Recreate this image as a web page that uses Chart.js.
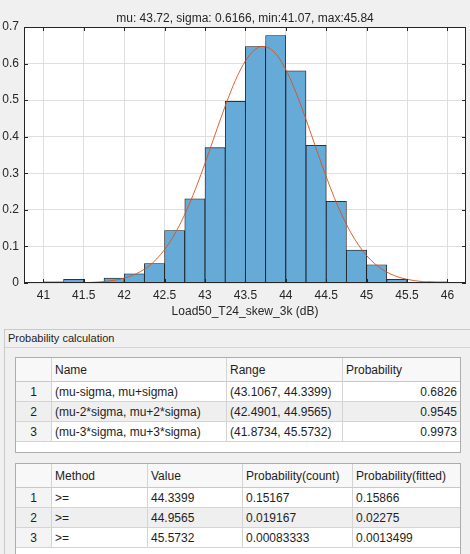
<!DOCTYPE html>
<html>
<head>
<meta charset="utf-8">
<script src="https://cdn.jsdelivr.net/npm/chart.js@4.4.1/dist/chart.umd.min.js"></script>
<style>
    html, body {
        margin: 0;
        padding: 0;
        width: 470px;
        height: 554px;
        overflow: hidden;
        background: #f0f0f0;
        font-family: "Liberation Sans", Arial, sans-serif;
    }
    #histChart {
        position: absolute;
        left: 0;
        top: 0;
    }
    .panel {
        position: absolute;
        left: 4px;
        top: 329px;
        width: 480px;
        height: 240px;
        border-left: 1px solid #c9c9c9;
        border-top: 1px solid #c9c9c9;
    }
    .panel-title {
        height: 17px;
        line-height: 17px;
        padding-left: 3px;
        font-size: 11px;
        color: #1e1e1e;
        border-bottom: 1px solid #d4d4d4;
    }
    .tbl-wrap {
        position: absolute;
        left: 15px;
        width: 446px;
        box-sizing: border-box;
        border: 1px solid #adadad;
        background: #ffffff;
        overflow: hidden;
    }
    table {
        border-collapse: separate;
        border-spacing: 0;
        table-layout: fixed;
        width: 444px;
        font-size: 12px;
        color: #1e1e1e;
    }
    th, td {
        box-sizing: border-box;
        border-right: 1px solid #d4d4d4;
        border-bottom: 1px solid #d4d4d4;
        padding: 0 3px;
        white-space: nowrap;
        overflow: hidden;
        font-weight: normal;
        text-align: left;
    }
    th:last-child, td:last-child { border-right: none; }
    th {
        height: 24px;
        background: #f8f8f8;
        border-bottom-color: #c8c8c8;
    }
    td { height: 20px; }
    td.rn { text-align: center; background: #f4f4f4; }
    tr.alt td { background: #efefef; }
    td.num { text-align: right; }
</style>
</head>
<body>
<canvas id="histChart" width="470" height="326"></canvas>

<div class="panel">
    <div class="panel-title">Probability calculation</div>
</div>
<div class="tbl-wrap" id="rangeTable" style="top:357px; height:96px;"></div>
<div class="tbl-wrap" id="methodTable" style="top:463px; height:100px;"></div>

<script>
// histogram (pdf normalised), bin width 0.25
const binCenters = [41.125, 41.375, 41.625, 41.875, 42.125, 42.375, 42.625, 42.875, 43.125, 43.375,
                    43.625, 43.875, 44.125, 44.375, 44.625, 44.875, 45.125, 45.375, 45.625, 45.875];
const binHeights = [0.0033, 0.0100, 0, 0.0133, 0.0250, 0.0533, 0.1433, 0.2300, 0.3700, 0.4967,
                    0.6467, 0.6767, 0.5800, 0.3767, 0.2233, 0.0900, 0.0500, 0.0100, 0, 0.0033];

// fitted normal curve
const fitX = [41.07, 41.3, 41.5, 41.7, 41.9, 42.0, 42.1, 42.2, 42.3, 42.4, 42.5, 42.6, 42.7, 42.8, 42.9,
              43.0, 43.1, 43.2, 43.3, 43.4, 43.5, 43.6, 43.7, 43.8, 43.9, 44.0, 44.1, 44.2, 44.3, 44.4,
              44.5, 44.6, 44.7, 44.8, 44.9, 45.0, 45.1, 45.2, 45.3, 45.4, 45.5, 45.6, 45.7, 45.84];
const fitY = [0.0001, 0.0003, 0.0010, 0.0030, 0.0083, 0.0132, 0.0205, 0.0310, 0.0456, 0.0654, 0.0914,
              0.1243, 0.1647, 0.2126, 0.2672, 0.3272, 0.3903, 0.4534, 0.5131, 0.5655, 0.6071, 0.6348,
              0.6467, 0.6416, 0.6200, 0.5836, 0.5351, 0.4779, 0.4157, 0.3522, 0.2907, 0.2336, 0.1830,
              0.1396, 0.1037, 0.0750, 0.0529, 0.0363, 0.0243, 0.0158, 0.0100, 0.0062, 0.0037, 0.0018];

const xTicks = [41, 41.5, 42, 42.5, 43, 43.5, 44, 44.5, 45, 45.5, 46];
const yTicks = [0, 0.1, 0.2, 0.3, 0.4, 0.5, 0.6, 0.7];

const chartTitle = 'mu: 43.72, sigma: 0.6166, min:41.07, max:45.84';
const xLabel = 'Load50_T24_skew_3k (dB)';

// tables
const rangeNames = ['(mu-sigma, mu+sigma)', '(mu-2*sigma, mu+2*sigma)', '(mu-3*sigma, mu+3*sigma)'];
const rangeValues = ['(43.1067, 44.3399)', '(42.4901, 44.9565)', '(41.8734, 45.5732)'];
const rangeProbs = ['0.6826', '0.9545', '0.9973'];

const methods = ['>=', '>=', '>='];
const methodValues = ['44.3399', '44.9565', '45.5732'];
const probCount = ['0.15167', '0.019167', '0.00083333'];
const probFitted = ['0.15866', '0.02275', '0.0013499'];

const axisColor = '#262626';
const gridColor = '#dfdfdf';
const fontFamily = '"Liberation Sans", Arial, sans-serif';

// white plot area, box and inward ticks like the original figure
const framePlugin = {
    id: 'frame',
    beforeDraw(chart) {
        const { ctx, chartArea: a } = chart;
        ctx.save();
        ctx.fillStyle = '#ffffff';
        ctx.fillRect(a.left, a.top, a.right - a.left, a.bottom - a.top);
        ctx.restore();
    },
    afterDatasetsDraw(chart) {
        const { ctx, chartArea: a, scales } = chart;
        const len = 4;
        ctx.save();
        ctx.strokeStyle = axisColor;
        ctx.lineWidth = 1;
        ctx.beginPath();
        xTicks.forEach(v => {
            const px = Math.round(scales.x.getPixelForValue(v)) + 0.5;
            ctx.moveTo(px, a.bottom); ctx.lineTo(px, a.bottom - len);
            ctx.moveTo(px, a.top); ctx.lineTo(px, a.top + len);
        });
        yTicks.forEach(v => {
            const py = Math.round(scales.y.getPixelForValue(v)) + 0.5;
            ctx.moveTo(a.left, py); ctx.lineTo(a.left + len, py);
            ctx.moveTo(a.right, py); ctx.lineTo(a.right - len, py);
        });
        ctx.stroke();
        ctx.strokeRect(Math.round(a.left) + 0.5, Math.round(a.top) + 0.5,
                       Math.round(a.right - a.left) - 1, Math.round(a.bottom - a.top) - 1);
        ctx.restore();
    }
};

function fmt(v) {
    return String(+v.toFixed(2));
}

function renderChart() {
    const canvas = document.getElementById('histChart');

    new Chart(canvas, {
        type: 'bar',
        data: {
            datasets: [
                {
                    type: 'line',
                    data: fitX.map((x, i) => ({ x, y: fitY[i] })),
                    borderColor: 'rgba(217, 83, 25, 0.9)',
                    borderWidth: 1,
                    pointRadius: 0,
                    cubicInterpolationMode: 'monotone',
                    fill: false,
                    order: 0
                },
                {
                    type: 'bar',
                    data: binCenters.map((x, i) => ({ x, y: binHeights[i] })),
                    backgroundColor: 'rgb(102, 170, 215)',
                    borderColor: '#111111',
                    borderWidth: 0.8,
                    barPercentage: 1,
                    categoryPercentage: 1,
                    order: 1
                }
            ]
        },
        options: {
            responsive: false,
            animation: false,
            layout: { padding: { left: 0, right: 4, top: 0, bottom: 0 } },
            plugins: {
                legend: { display: false },
                tooltip: { enabled: false },
                title: {
                    display: true,
                    text: chartTitle,
                    fullSize: false,
                    color: axisColor,
                    font: { family: fontFamily, size: 12, weight: 'normal' },
                    padding: { top: 11, bottom: 1.6 }
                }
            },
            scales: {
                x: {
                    type: 'linear',
                    min: 40.76,
                    max: 46.23,
                    offset: false,
                    grid: { color: gridColor, drawTicks: false, offset: false },
                    border: { display: false },
                    afterBuildTicks: scale => { scale.ticks = xTicks.map(v => ({ value: v })); },
                    afterFit: scale => { scale.height = 43; },
                    ticks: {
                        color: axisColor,
                        padding: 5,
                        maxRotation: 0,
                        autoSkip: false,
                        font: { family: fontFamily, size: 12 },
                        callback: v => fmt(v)
                    },
                    title: {
                        display: true,
                        text: xLabel,
                        color: axisColor,
                        font: { family: fontFamily, size: 12 },
                        padding: { top: 0, bottom: 7 }
                    }
                },
                y: {
                    min: 0,
                    max: 0.7,
                    grid: { color: gridColor, drawTicks: false },
                    border: { display: false },
                    afterBuildTicks: scale => { scale.ticks = yTicks.map(v => ({ value: v })); },
                    afterFit: scale => { scale.width = 24; },
                    ticks: {
                        color: axisColor,
                        padding: 5,
                        font: { family: fontFamily, size: 12 },
                        callback: v => fmt(v)
                    }
                }
            }
        },
        plugins: [framePlugin]
    });
}

function buildTable(el, headers, widths, rows, numCols) {
    let html = '<table><colgroup>';
    widths.forEach(w => { html += '<col style="width:' + w + 'px">'; });
    html += '</colgroup><tr>';
    headers.forEach(h => { html += '<th>' + h + '</th>'; });
    html += '</tr>';
    rows.forEach((row, i) => {
        html += '<tr' + (i % 2 === 1 ? ' class="alt"' : '') + '><td class="rn">' + (i + 1) + '</td>';
        row.forEach((cell, j) => {
            const cls = numCols.includes(j) ? ' class="num"' : '';
            html += '<td' + cls + '>' + cell.replace('>', '&gt;') + '</td>';
        });
        html += '</tr>';
    });
    html += '</table>';
    el.innerHTML = html;
}

function renderTables() {
    buildTable(
        document.getElementById('rangeTable'),
        ['', 'Name', 'Range', 'Probability'],
        [36, 175, 116, 117],
        rangeNames.map((n, i) => [n, rangeValues[i], rangeProbs[i]]),
        [2]
    );
    buildTable(
        document.getElementById('methodTable'),
        ['', 'Method', 'Value', 'Probability(count)', 'Probability(fitted)'],
        [36, 96, 95, 110, 107],
        methods.map((m, i) => [m, methodValues[i], probCount[i], probFitted[i]]),
        []
    );
}

renderChart();
renderTables();
</script>
</body>
</html>
